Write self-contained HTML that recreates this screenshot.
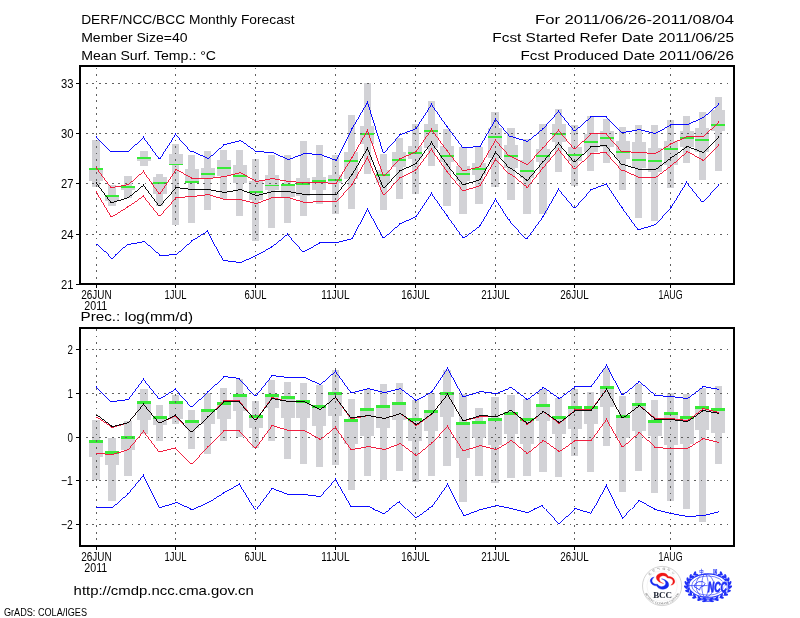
<!DOCTYPE html>
<html lang="en"><head><meta charset="utf-8"><title>DERF/NCC/BCC Monthly Forecast</title>
<style>html,body{margin:0;padding:0;background:#fff}body{width:800px;height:618px;overflow:hidden}svg{display:block;will-change:transform}text{font-family:"Liberation Sans", sans-serif;fill:#000}</style>
</head><body>
<svg width="800" height="618" viewBox="0 0 800 618">
<rect x="0" y="0" width="800" height="618" fill="#fff"/>
<g shape-rendering="crispEdges">
<rect x="92" y="140" width="8" height="47" fill="#d2d2d6"/>
<rect x="89" y="168" width="14" height="13" fill="#d2d2d6"/>
<rect x="108" y="185" width="8" height="21" fill="#d2d2d6"/>
<rect x="105" y="195" width="14" height="6" fill="#d2d2d6"/>
<rect x="124" y="176" width="8" height="22" fill="#d2d2d6"/>
<rect x="121" y="186" width="14" height="4" fill="#d2d2d6"/>
<rect x="140" y="151" width="8" height="15" fill="#d2d2d6"/>
<rect x="137" y="157" width="14" height="4" fill="#d2d2d6"/>
<rect x="156" y="174" width="7" height="32" fill="#d2d2d6"/>
<rect x="153" y="177" width="14" height="17" fill="#d2d2d6"/>
<rect x="172" y="144" width="7" height="81" fill="#d2d2d6"/>
<rect x="169" y="154" width="14" height="11" fill="#d2d2d6"/>
<rect x="188" y="155" width="7" height="68" fill="#d2d2d6"/>
<rect x="185" y="169" width="14" height="14" fill="#d2d2d6"/>
<rect x="204" y="151" width="7" height="59" fill="#d2d2d6"/>
<rect x="201" y="168" width="14" height="10" fill="#d2d2d6"/>
<rect x="220" y="150" width="7" height="49" fill="#d2d2d6"/>
<rect x="217" y="160" width="14" height="16" fill="#d2d2d6"/>
<rect x="236" y="150" width="7" height="66" fill="#d2d2d6"/>
<rect x="233" y="165" width="14" height="18" fill="#d2d2d6"/>
<rect x="252" y="159" width="7" height="82" fill="#d2d2d6"/>
<rect x="249" y="181" width="14" height="19" fill="#d2d2d6"/>
<rect x="268" y="155" width="7" height="73" fill="#d2d2d6"/>
<rect x="265" y="175" width="14" height="15" fill="#d2d2d6"/>
<rect x="284" y="155" width="7" height="68" fill="#d2d2d6"/>
<rect x="281" y="184" width="14" height="13" fill="#d2d2d6"/>
<rect x="300" y="141" width="7" height="75" fill="#d2d2d6"/>
<rect x="296" y="178" width="14" height="18" fill="#d2d2d6"/>
<rect x="316" y="145" width="7" height="59" fill="#d2d2d6"/>
<rect x="312" y="177" width="14" height="13" fill="#d2d2d6"/>
<rect x="332" y="155" width="7" height="59" fill="#d2d2d6"/>
<rect x="328" y="175" width="14" height="8" fill="#d2d2d6"/>
<rect x="348" y="115" width="7" height="94" fill="#d2d2d6"/>
<rect x="344" y="152" width="14" height="27" fill="#d2d2d6"/>
<rect x="364" y="83" width="7" height="91" fill="#d2d2d6"/>
<rect x="360" y="126" width="14" height="18" fill="#d2d2d6"/>
<rect x="380" y="154" width="7" height="56" fill="#d2d2d6"/>
<rect x="376" y="170" width="14" height="13" fill="#d2d2d6"/>
<rect x="396" y="138" width="7" height="61" fill="#d2d2d6"/>
<rect x="392" y="152" width="14" height="15" fill="#d2d2d6"/>
<rect x="412" y="124" width="7" height="70" fill="#d2d2d6"/>
<rect x="408" y="146" width="14" height="13" fill="#d2d2d6"/>
<rect x="428" y="101" width="7" height="65" fill="#d2d2d6"/>
<rect x="424" y="124" width="14" height="24" fill="#d2d2d6"/>
<rect x="443" y="129" width="8" height="77" fill="#d2d2d6"/>
<rect x="440" y="146" width="14" height="16" fill="#d2d2d6"/>
<rect x="459" y="147" width="8" height="67" fill="#d2d2d6"/>
<rect x="456" y="166" width="14" height="15" fill="#d2d2d6"/>
<rect x="475" y="147" width="8" height="57" fill="#d2d2d6"/>
<rect x="472" y="163" width="14" height="12" fill="#d2d2d6"/>
<rect x="491" y="112" width="8" height="75" fill="#d2d2d6"/>
<rect x="488" y="128" width="14" height="30" fill="#d2d2d6"/>
<rect x="507" y="128" width="8" height="72" fill="#d2d2d6"/>
<rect x="504" y="145" width="14" height="23" fill="#d2d2d6"/>
<rect x="523" y="139" width="8" height="75" fill="#d2d2d6"/>
<rect x="520" y="160" width="14" height="18" fill="#d2d2d6"/>
<rect x="539" y="124" width="8" height="90" fill="#d2d2d6"/>
<rect x="536" y="149" width="14" height="13" fill="#d2d2d6"/>
<rect x="555" y="109" width="7" height="63" fill="#d2d2d6"/>
<rect x="552" y="124" width="14" height="18" fill="#d2d2d6"/>
<rect x="571" y="125" width="7" height="61" fill="#d2d2d6"/>
<rect x="568" y="147" width="14" height="14" fill="#d2d2d6"/>
<rect x="587" y="116" width="7" height="55" fill="#d2d2d6"/>
<rect x="584" y="134" width="14" height="18" fill="#d2d2d6"/>
<rect x="603" y="119" width="7" height="44" fill="#d2d2d6"/>
<rect x="600" y="131" width="14" height="16" fill="#d2d2d6"/>
<rect x="619" y="127" width="7" height="63" fill="#d2d2d6"/>
<rect x="616" y="141" width="14" height="18" fill="#d2d2d6"/>
<rect x="635" y="125" width="7" height="93" fill="#d2d2d6"/>
<rect x="632" y="142" width="14" height="26" fill="#d2d2d6"/>
<rect x="651" y="125" width="7" height="96" fill="#d2d2d6"/>
<rect x="648" y="148" width="14" height="24" fill="#d2d2d6"/>
<rect x="667" y="120" width="7" height="68" fill="#d2d2d6"/>
<rect x="664" y="141" width="14" height="24" fill="#d2d2d6"/>
<rect x="683" y="116" width="7" height="47" fill="#d2d2d6"/>
<rect x="680" y="131" width="14" height="16" fill="#d2d2d6"/>
<rect x="699" y="112" width="7" height="68" fill="#d2d2d6"/>
<rect x="695" y="128" width="14" height="24" fill="#d2d2d6"/>
<rect x="715" y="97" width="7" height="74" fill="#d2d2d6"/>
<rect x="711" y="110" width="14" height="21" fill="#d2d2d6"/>
<rect x="89" y="168" width="14" height="2" fill="#38ea38"/>
<rect x="105" y="195" width="14" height="2" fill="#38ea38"/>
<rect x="121" y="186" width="14" height="2" fill="#38ea38"/>
<rect x="137" y="157" width="14" height="2" fill="#38ea38"/>
<rect x="153" y="182" width="14" height="2" fill="#38ea38"/>
<rect x="169" y="164" width="14" height="1" fill="#38ea38"/>
<rect x="185" y="181" width="14" height="2" fill="#38ea38"/>
<rect x="201" y="173" width="14" height="2" fill="#38ea38"/>
<rect x="217" y="167" width="14" height="2" fill="#38ea38"/>
<rect x="233" y="175" width="14" height="2" fill="#38ea38"/>
<rect x="249" y="191" width="14" height="2" fill="#38ea38"/>
<rect x="265" y="185" width="14" height="1" fill="#38ea38"/>
<rect x="281" y="184" width="14" height="2" fill="#38ea38"/>
<rect x="296" y="183" width="14" height="2" fill="#38ea38"/>
<rect x="312" y="180" width="14" height="2" fill="#38ea38"/>
<rect x="328" y="179" width="14" height="2" fill="#38ea38"/>
<rect x="344" y="160" width="14" height="2" fill="#38ea38"/>
<rect x="360" y="133" width="14" height="2" fill="#38ea38"/>
<rect x="376" y="174" width="14" height="2" fill="#38ea38"/>
<rect x="392" y="159" width="14" height="2" fill="#38ea38"/>
<rect x="408" y="152" width="14" height="2" fill="#38ea38"/>
<rect x="424" y="130" width="14" height="2" fill="#38ea38"/>
<rect x="440" y="155" width="14" height="2" fill="#38ea38"/>
<rect x="456" y="173" width="14" height="2" fill="#38ea38"/>
<rect x="472" y="168" width="14" height="2" fill="#38ea38"/>
<rect x="488" y="136" width="14" height="2" fill="#38ea38"/>
<rect x="504" y="155" width="14" height="2" fill="#38ea38"/>
<rect x="520" y="170" width="14" height="2" fill="#38ea38"/>
<rect x="536" y="155" width="14" height="2" fill="#38ea38"/>
<rect x="552" y="133" width="14" height="2" fill="#38ea38"/>
<rect x="568" y="154" width="14" height="2" fill="#38ea38"/>
<rect x="584" y="141" width="14" height="2" fill="#38ea38"/>
<rect x="600" y="137" width="14" height="2" fill="#38ea38"/>
<rect x="616" y="151" width="14" height="2" fill="#38ea38"/>
<rect x="632" y="159" width="14" height="2" fill="#38ea38"/>
<rect x="648" y="160" width="14" height="2" fill="#38ea38"/>
<rect x="664" y="148" width="14" height="2" fill="#38ea38"/>
<rect x="680" y="137" width="14" height="2" fill="#38ea38"/>
<rect x="695" y="139" width="14" height="2" fill="#38ea38"/>
<rect x="711" y="124" width="14" height="2" fill="#38ea38"/>
</g>
<g stroke="#606060" stroke-width="1" stroke-dasharray="1.75 4.79" shape-rendering="crispEdges" fill="none">
<line x1="80" y1="83.5" x2="734" y2="83.5" stroke-dashoffset="0.79"/>
<line x1="80" y1="133.5" x2="734" y2="133.5" stroke-dashoffset="0.79"/>
<line x1="80" y1="183.5" x2="734" y2="183.5" stroke-dashoffset="0.79"/>
<line x1="80" y1="234.5" x2="734" y2="234.5" stroke-dashoffset="0.79"/>
<line x1="96.5" y1="66" x2="96.5" y2="284" stroke-dashoffset="4.94"/>
<line x1="175.5" y1="66" x2="175.5" y2="284" stroke-dashoffset="4.94"/>
<line x1="255.5" y1="66" x2="255.5" y2="284" stroke-dashoffset="4.94"/>
<line x1="335.5" y1="66" x2="335.5" y2="284" stroke-dashoffset="4.94"/>
<line x1="415.5" y1="66" x2="415.5" y2="284" stroke-dashoffset="4.94"/>
<line x1="495.5" y1="66" x2="495.5" y2="284" stroke-dashoffset="4.94"/>
<line x1="574.5" y1="66" x2="574.5" y2="284" stroke-dashoffset="4.94"/>
<line x1="670.5" y1="66" x2="670.5" y2="284" stroke-dashoffset="4.94"/>
</g>
<polyline points="96.5,136.5 111.5,151.5 127.5,151.5 143.5,136.5 159.5,158.5 175.5,133.5 191.5,151.5 207.5,158.5 223.5,144.5 239.5,140.5 255.5,151.5 271.5,152.5 287.5,159.5 303.5,153.5 319.5,154.5 335.5,160.5 351.5,128.5 367.5,101.5 383.5,152.5 399.5,134.5 415.5,128.5 431.5,103.5 447.5,126.5 463.5,147.5 479.5,146.5 495.5,118.5 510.5,136.5 526.5,141.5 542.5,128.5 558.5,110.5 574.5,130.5 590.5,116.5 606.5,116.5 622.5,132.5 638.5,129.5 654.5,133.5 670.5,124.5 686.5,124.5 702.5,117.5 718.5,103.5" fill="none" stroke="#0000ff" stroke-width="0.95" shape-rendering="crispEdges"/>
<path d="M96 136h1v1h-1zM111 151h1v1h-1zM127 151h1v1h-1zM143 136h1v1h-1zM159 158h1v1h-1zM175 133h1v1h-1zM191 151h1v1h-1zM207 158h1v1h-1zM223 144h1v1h-1zM239 140h1v1h-1zM255 151h1v1h-1zM271 152h1v1h-1zM287 159h1v1h-1zM303 153h1v1h-1zM319 154h1v1h-1zM335 160h1v1h-1zM351 128h1v1h-1zM367 101h1v1h-1zM383 152h1v1h-1zM399 134h1v1h-1zM415 128h1v1h-1zM431 103h1v1h-1zM447 126h1v1h-1zM463 147h1v1h-1zM479 146h1v1h-1zM495 118h1v1h-1zM510 136h1v1h-1zM526 141h1v1h-1zM542 128h1v1h-1zM558 110h1v1h-1zM574 130h1v1h-1zM590 116h1v1h-1zM606 116h1v1h-1zM622 132h1v1h-1zM638 129h1v1h-1zM654 133h1v1h-1zM670 124h1v1h-1zM686 124h1v1h-1zM702 117h1v1h-1zM718 103h1v1h-1z" fill="#0000ff" shape-rendering="crispEdges"/>
<polyline points="96.5,244.5 111.5,258.5 127.5,244.5 143.5,241.5 159.5,255.5 175.5,254.5 191.5,240.5 207.5,230.5 223.5,260.5 239.5,262.5 255.5,255.5 271.5,246.5 287.5,233.5 303.5,251.5 319.5,242.5 335.5,242.5 351.5,238.5 367.5,208.5 383.5,237.5 399.5,223.5 415.5,216.5 431.5,192.5 447.5,215.5 463.5,237.5 479.5,225.5 495.5,198.5 510.5,221.5 526.5,238.5 542.5,216.5 558.5,188.5 574.5,207.5 590.5,189.5 606.5,183.5 622.5,207.5 638.5,229.5 654.5,224.5 670.5,207.5 686.5,181.5 702.5,201.5 718.5,184.5" fill="none" stroke="#0000ff" stroke-width="0.95" shape-rendering="crispEdges"/>
<path d="M96 244h1v1h-1zM111 258h1v1h-1zM127 244h1v1h-1zM143 241h1v1h-1zM159 255h1v1h-1zM175 254h1v1h-1zM191 240h1v1h-1zM207 230h1v1h-1zM223 260h1v1h-1zM239 262h1v1h-1zM255 255h1v1h-1zM271 246h1v1h-1zM287 233h1v1h-1zM303 251h1v1h-1zM319 242h1v1h-1zM335 242h1v1h-1zM351 238h1v1h-1zM367 208h1v1h-1zM383 237h1v1h-1zM399 223h1v1h-1zM415 216h1v1h-1zM431 192h1v1h-1zM447 215h1v1h-1zM463 237h1v1h-1zM479 225h1v1h-1zM495 198h1v1h-1zM510 221h1v1h-1zM526 238h1v1h-1zM542 216h1v1h-1zM558 188h1v1h-1zM574 207h1v1h-1zM590 189h1v1h-1zM606 183h1v1h-1zM622 207h1v1h-1zM638 229h1v1h-1zM654 224h1v1h-1zM670 207h1v1h-1zM686 181h1v1h-1zM702 201h1v1h-1zM718 184h1v1h-1z" fill="#0000ff" shape-rendering="crispEdges"/>
<polyline points="96.5,167.5 111.5,187.5 127.5,184.5 143.5,170.5 159.5,193.5 175.5,169.5 191.5,178.5 207.5,178.5 223.5,176.5 239.5,172.5 255.5,181.5 271.5,178.5 287.5,181.5 303.5,182.5 319.5,182.5 335.5,183.5 351.5,157.5 367.5,129.5 383.5,175.5 399.5,158.5 415.5,151.5 431.5,128.5 447.5,150.5 463.5,170.5 479.5,166.5 495.5,139.5 510.5,156.5 526.5,164.5 542.5,147.5 558.5,129.5 574.5,148.5 590.5,133.5 606.5,133.5 622.5,151.5 638.5,152.5 654.5,153.5 670.5,143.5 686.5,136.5 702.5,136.5 718.5,121.5" fill="none" stroke="#f01437" stroke-width="0.95" shape-rendering="crispEdges"/>
<path d="M96 167h1v1h-1zM111 187h1v1h-1zM127 184h1v1h-1zM143 170h1v1h-1zM159 193h1v1h-1zM175 169h1v1h-1zM191 178h1v1h-1zM207 178h1v1h-1zM223 176h1v1h-1zM239 172h1v1h-1zM255 181h1v1h-1zM271 178h1v1h-1zM287 181h1v1h-1zM303 182h1v1h-1zM319 182h1v1h-1zM335 183h1v1h-1zM351 157h1v1h-1zM367 129h1v1h-1zM383 175h1v1h-1zM399 158h1v1h-1zM415 151h1v1h-1zM431 128h1v1h-1zM447 150h1v1h-1zM463 170h1v1h-1zM479 166h1v1h-1zM495 139h1v1h-1zM510 156h1v1h-1zM526 164h1v1h-1zM542 147h1v1h-1zM558 129h1v1h-1zM574 148h1v1h-1zM590 133h1v1h-1zM606 133h1v1h-1zM622 151h1v1h-1zM638 152h1v1h-1zM654 153h1v1h-1zM670 143h1v1h-1zM686 136h1v1h-1zM702 136h1v1h-1zM718 121h1v1h-1z" fill="#f01437" shape-rendering="crispEdges"/>
<polyline points="96.5,191.5 111.5,216.5 127.5,206.5 143.5,195.5 159.5,215.5 175.5,197.5 191.5,196.5 207.5,194.5 223.5,199.5 239.5,199.5 255.5,203.5 271.5,197.5 287.5,197.5 303.5,202.5 319.5,201.5 335.5,201.5 351.5,184.5 367.5,156.5 383.5,194.5 399.5,177.5 415.5,169.5 431.5,148.5 447.5,171.5 463.5,190.5 479.5,185.5 495.5,158.5 510.5,174.5 526.5,187.5 542.5,167.5 558.5,148.5 574.5,168.5 590.5,153.5 606.5,152.5 622.5,170.5 638.5,177.5 654.5,177.5 670.5,165.5 686.5,151.5 702.5,160.5 718.5,144.5" fill="none" stroke="#f01437" stroke-width="0.95" shape-rendering="crispEdges"/>
<path d="M96 191h1v1h-1zM111 216h1v1h-1zM127 206h1v1h-1zM143 195h1v1h-1zM159 215h1v1h-1zM175 197h1v1h-1zM191 196h1v1h-1zM207 194h1v1h-1zM223 199h1v1h-1zM239 199h1v1h-1zM255 203h1v1h-1zM271 197h1v1h-1zM287 197h1v1h-1zM303 202h1v1h-1zM319 201h1v1h-1zM335 201h1v1h-1zM351 184h1v1h-1zM367 156h1v1h-1zM383 194h1v1h-1zM399 177h1v1h-1zM415 169h1v1h-1zM431 148h1v1h-1zM447 171h1v1h-1zM463 190h1v1h-1zM479 185h1v1h-1zM495 158h1v1h-1zM510 174h1v1h-1zM526 187h1v1h-1zM542 167h1v1h-1zM558 148h1v1h-1zM574 168h1v1h-1zM590 153h1v1h-1zM606 152h1v1h-1zM622 170h1v1h-1zM638 177h1v1h-1zM654 177h1v1h-1zM670 165h1v1h-1zM686 151h1v1h-1zM702 160h1v1h-1zM718 144h1v1h-1z" fill="#f01437" shape-rendering="crispEdges"/>
<polyline points="96.5,182.5 111.5,202.5 127.5,197.5 143.5,184.5 159.5,205.5 175.5,187.5 191.5,189.5 207.5,189.5 223.5,192.5 239.5,189.5 255.5,195.5 271.5,191.5 287.5,191.5 303.5,194.5 319.5,194.5 335.5,194.5 351.5,174.5 367.5,147.5 383.5,187.5 399.5,170.5 415.5,163.5 431.5,141.5 447.5,164.5 463.5,184.5 479.5,179.5 495.5,151.5 510.5,168.5 526.5,180.5 542.5,161.5 558.5,142.5 574.5,161.5 590.5,146.5 606.5,145.5 622.5,164.5 638.5,169.5 654.5,169.5 670.5,157.5 686.5,146.5 702.5,152.5 718.5,136.5" fill="none" stroke="#000" stroke-width="0.95" shape-rendering="crispEdges"/>
<path d="M96 182h1v1h-1zM111 202h1v1h-1zM127 197h1v1h-1zM143 184h1v1h-1zM159 205h1v1h-1zM175 187h1v1h-1zM191 189h1v1h-1zM207 189h1v1h-1zM223 192h1v1h-1zM239 189h1v1h-1zM255 195h1v1h-1zM271 191h1v1h-1zM287 191h1v1h-1zM303 194h1v1h-1zM319 194h1v1h-1zM335 194h1v1h-1zM351 174h1v1h-1zM367 147h1v1h-1zM383 187h1v1h-1zM399 170h1v1h-1zM415 163h1v1h-1zM431 141h1v1h-1zM447 164h1v1h-1zM463 184h1v1h-1zM479 179h1v1h-1zM495 151h1v1h-1zM510 168h1v1h-1zM526 180h1v1h-1zM542 161h1v1h-1zM558 142h1v1h-1zM574 161h1v1h-1zM590 146h1v1h-1zM606 145h1v1h-1zM622 164h1v1h-1zM638 169h1v1h-1zM654 169h1v1h-1zM670 157h1v1h-1zM686 146h1v1h-1zM702 152h1v1h-1zM718 136h1v1h-1z" fill="#000" shape-rendering="crispEdges"/>
<g shape-rendering="crispEdges">
<rect x="80" y="66" width="654" height="218" fill="none" stroke="#000" stroke-width="2"/>
<rect x="76" y="83" width="4" height="1" fill="#000"/>
<rect x="76" y="133" width="4" height="1" fill="#000"/>
<rect x="76" y="183" width="4" height="1" fill="#000"/>
<rect x="76" y="234" width="4" height="1" fill="#000"/>
<rect x="76" y="284" width="4" height="1" fill="#000"/>
<rect x="96" y="285" width="1" height="3" fill="#000"/>
<rect x="175" y="285" width="1" height="3" fill="#000"/>
<rect x="255" y="285" width="1" height="3" fill="#000"/>
<rect x="335" y="285" width="1" height="3" fill="#000"/>
<rect x="415" y="285" width="1" height="3" fill="#000"/>
<rect x="495" y="285" width="1" height="3" fill="#000"/>
<rect x="574" y="285" width="1" height="3" fill="#000"/>
<rect x="670" y="285" width="1" height="3" fill="#000"/>
</g>
<g shape-rendering="crispEdges">
<rect x="92" y="420" width="8" height="60" fill="#d2d2d6"/>
<rect x="89" y="440" width="14" height="17" fill="#d2d2d6"/>
<rect x="108" y="438" width="8" height="63" fill="#d2d2d6"/>
<rect x="105" y="451" width="14" height="14" fill="#d2d2d6"/>
<rect x="124" y="421" width="8" height="55" fill="#d2d2d6"/>
<rect x="121" y="436" width="14" height="14" fill="#d2d2d6"/>
<rect x="140" y="389" width="8" height="45" fill="#d2d2d6"/>
<rect x="137" y="401" width="14" height="19" fill="#d2d2d6"/>
<rect x="156" y="405" width="7" height="36" fill="#d2d2d6"/>
<rect x="153" y="416" width="14" height="9" fill="#d2d2d6"/>
<rect x="172" y="395" width="7" height="29" fill="#d2d2d6"/>
<rect x="169" y="401" width="14" height="18" fill="#d2d2d6"/>
<rect x="188" y="410" width="7" height="39" fill="#d2d2d6"/>
<rect x="185" y="420" width="14" height="8" fill="#d2d2d6"/>
<rect x="204" y="393" width="7" height="61" fill="#d2d2d6"/>
<rect x="201" y="409" width="14" height="15" fill="#d2d2d6"/>
<rect x="220" y="388" width="7" height="53" fill="#d2d2d6"/>
<rect x="217" y="402" width="14" height="17" fill="#d2d2d6"/>
<rect x="236" y="379" width="7" height="58" fill="#d2d2d6"/>
<rect x="233" y="394" width="14" height="17" fill="#d2d2d6"/>
<rect x="252" y="401" width="7" height="47" fill="#d2d2d6"/>
<rect x="249" y="415" width="14" height="13" fill="#d2d2d6"/>
<rect x="268" y="380" width="7" height="61" fill="#d2d2d6"/>
<rect x="265" y="394" width="14" height="14" fill="#d2d2d6"/>
<rect x="284" y="382" width="7" height="77" fill="#d2d2d6"/>
<rect x="281" y="396" width="14" height="22" fill="#d2d2d6"/>
<rect x="300" y="383" width="7" height="81" fill="#d2d2d6"/>
<rect x="296" y="400" width="14" height="18" fill="#d2d2d6"/>
<rect x="316" y="385" width="7" height="82" fill="#d2d2d6"/>
<rect x="312" y="405" width="14" height="21" fill="#d2d2d6"/>
<rect x="332" y="370" width="7" height="95" fill="#d2d2d6"/>
<rect x="328" y="392" width="14" height="24" fill="#d2d2d6"/>
<rect x="348" y="399" width="7" height="91" fill="#d2d2d6"/>
<rect x="344" y="419" width="14" height="25" fill="#d2d2d6"/>
<rect x="364" y="389" width="7" height="87" fill="#d2d2d6"/>
<rect x="360" y="408" width="14" height="28" fill="#d2d2d6"/>
<rect x="380" y="384" width="7" height="96" fill="#d2d2d6"/>
<rect x="376" y="405" width="14" height="23" fill="#d2d2d6"/>
<rect x="396" y="383" width="7" height="88" fill="#d2d2d6"/>
<rect x="392" y="402" width="14" height="18" fill="#d2d2d6"/>
<rect x="412" y="400" width="7" height="82" fill="#d2d2d6"/>
<rect x="408" y="418" width="14" height="23" fill="#d2d2d6"/>
<rect x="428" y="393" width="7" height="83" fill="#d2d2d6"/>
<rect x="424" y="410" width="14" height="21" fill="#d2d2d6"/>
<rect x="443" y="370" width="8" height="96" fill="#d2d2d6"/>
<rect x="440" y="392" width="14" height="25" fill="#d2d2d6"/>
<rect x="459" y="394" width="8" height="108" fill="#d2d2d6"/>
<rect x="456" y="422" width="14" height="36" fill="#d2d2d6"/>
<rect x="475" y="408" width="8" height="68" fill="#d2d2d6"/>
<rect x="472" y="421" width="14" height="17" fill="#d2d2d6"/>
<rect x="491" y="397" width="8" height="86" fill="#d2d2d6"/>
<rect x="488" y="418" width="14" height="27" fill="#d2d2d6"/>
<rect x="507" y="395" width="8" height="83" fill="#d2d2d6"/>
<rect x="504" y="412" width="14" height="22" fill="#d2d2d6"/>
<rect x="523" y="399" width="8" height="77" fill="#d2d2d6"/>
<rect x="520" y="418" width="14" height="26" fill="#d2d2d6"/>
<rect x="539" y="389" width="8" height="83" fill="#d2d2d6"/>
<rect x="536" y="404" width="14" height="17" fill="#d2d2d6"/>
<rect x="555" y="398" width="7" height="79" fill="#d2d2d6"/>
<rect x="552" y="416" width="14" height="18" fill="#d2d2d6"/>
<rect x="571" y="389" width="7" height="67" fill="#d2d2d6"/>
<rect x="568" y="406" width="14" height="23" fill="#d2d2d6"/>
<rect x="587" y="392" width="7" height="80" fill="#d2d2d6"/>
<rect x="584" y="406" width="14" height="18" fill="#d2d2d6"/>
<rect x="603" y="368" width="7" height="78" fill="#d2d2d6"/>
<rect x="600" y="386" width="14" height="21" fill="#d2d2d6"/>
<rect x="619" y="396" width="7" height="96" fill="#d2d2d6"/>
<rect x="616" y="415" width="14" height="23" fill="#d2d2d6"/>
<rect x="635" y="384" width="7" height="87" fill="#d2d2d6"/>
<rect x="632" y="403" width="14" height="28" fill="#d2d2d6"/>
<rect x="651" y="400" width="7" height="93" fill="#d2d2d6"/>
<rect x="648" y="420" width="14" height="16" fill="#d2d2d6"/>
<rect x="667" y="393" width="7" height="108" fill="#d2d2d6"/>
<rect x="664" y="412" width="14" height="33" fill="#d2d2d6"/>
<rect x="683" y="394" width="7" height="115" fill="#d2d2d6"/>
<rect x="680" y="416" width="14" height="28" fill="#d2d2d6"/>
<rect x="699" y="388" width="7" height="134" fill="#d2d2d6"/>
<rect x="695" y="406" width="14" height="24" fill="#d2d2d6"/>
<rect x="715" y="386" width="7" height="78" fill="#d2d2d6"/>
<rect x="711" y="408" width="14" height="25" fill="#d2d2d6"/>
<rect x="89" y="440" width="14" height="3" fill="#38ea38"/>
<rect x="105" y="451" width="14" height="3" fill="#38ea38"/>
<rect x="121" y="436" width="14" height="3" fill="#38ea38"/>
<rect x="137" y="401" width="14" height="3" fill="#38ea38"/>
<rect x="153" y="416" width="14" height="3" fill="#38ea38"/>
<rect x="169" y="401" width="14" height="3" fill="#38ea38"/>
<rect x="185" y="420" width="14" height="3" fill="#38ea38"/>
<rect x="201" y="409" width="14" height="3" fill="#38ea38"/>
<rect x="217" y="402" width="14" height="3" fill="#38ea38"/>
<rect x="233" y="394" width="14" height="3" fill="#38ea38"/>
<rect x="249" y="415" width="14" height="3" fill="#38ea38"/>
<rect x="265" y="394" width="14" height="3" fill="#38ea38"/>
<rect x="281" y="396" width="14" height="3" fill="#38ea38"/>
<rect x="296" y="400" width="14" height="3" fill="#38ea38"/>
<rect x="312" y="405" width="14" height="3" fill="#38ea38"/>
<rect x="328" y="392" width="14" height="3" fill="#38ea38"/>
<rect x="344" y="419" width="14" height="3" fill="#38ea38"/>
<rect x="360" y="408" width="14" height="3" fill="#38ea38"/>
<rect x="376" y="405" width="14" height="3" fill="#38ea38"/>
<rect x="392" y="402" width="14" height="3" fill="#38ea38"/>
<rect x="408" y="418" width="14" height="3" fill="#38ea38"/>
<rect x="424" y="410" width="14" height="3" fill="#38ea38"/>
<rect x="440" y="392" width="14" height="3" fill="#38ea38"/>
<rect x="456" y="422" width="14" height="3" fill="#38ea38"/>
<rect x="472" y="421" width="14" height="3" fill="#38ea38"/>
<rect x="488" y="418" width="14" height="3" fill="#38ea38"/>
<rect x="504" y="412" width="14" height="3" fill="#38ea38"/>
<rect x="520" y="418" width="14" height="3" fill="#38ea38"/>
<rect x="536" y="404" width="14" height="3" fill="#38ea38"/>
<rect x="552" y="416" width="14" height="3" fill="#38ea38"/>
<rect x="568" y="406" width="14" height="3" fill="#38ea38"/>
<rect x="584" y="406" width="14" height="3" fill="#38ea38"/>
<rect x="600" y="386" width="14" height="3" fill="#38ea38"/>
<rect x="616" y="415" width="14" height="3" fill="#38ea38"/>
<rect x="632" y="403" width="14" height="3" fill="#38ea38"/>
<rect x="648" y="420" width="14" height="3" fill="#38ea38"/>
<rect x="664" y="412" width="14" height="3" fill="#38ea38"/>
<rect x="680" y="416" width="14" height="3" fill="#38ea38"/>
<rect x="695" y="406" width="14" height="3" fill="#38ea38"/>
<rect x="711" y="408" width="14" height="3" fill="#38ea38"/>
</g>
<g stroke="#606060" stroke-width="1" stroke-dasharray="1.75 4.79" shape-rendering="crispEdges" fill="none">
<line x1="80" y1="349.5" x2="734" y2="349.5" stroke-dashoffset="0.79"/>
<line x1="80" y1="393.5" x2="734" y2="393.5" stroke-dashoffset="0.79"/>
<line x1="80" y1="437.5" x2="734" y2="437.5" stroke-dashoffset="0.79"/>
<line x1="80" y1="480.5" x2="734" y2="480.5" stroke-dashoffset="0.79"/>
<line x1="80" y1="524.5" x2="734" y2="524.5" stroke-dashoffset="0.79"/>
<line x1="96.5" y1="328.4" x2="96.5" y2="545.6" stroke-dashoffset="5.9"/>
<line x1="175.5" y1="328.4" x2="175.5" y2="545.6" stroke-dashoffset="5.9"/>
<line x1="255.5" y1="328.4" x2="255.5" y2="545.6" stroke-dashoffset="5.9"/>
<line x1="335.5" y1="328.4" x2="335.5" y2="545.6" stroke-dashoffset="5.9"/>
<line x1="415.5" y1="328.4" x2="415.5" y2="545.6" stroke-dashoffset="5.9"/>
<line x1="495.5" y1="328.4" x2="495.5" y2="545.6" stroke-dashoffset="5.9"/>
<line x1="574.5" y1="328.4" x2="574.5" y2="545.6" stroke-dashoffset="5.9"/>
<line x1="670.5" y1="328.4" x2="670.5" y2="545.6" stroke-dashoffset="5.9"/>
</g>
<polyline points="96.5,386.5 111.5,401.5 127.5,399.5 143.5,378.5 159.5,398.5 175.5,388.5 191.5,406.5 207.5,391.5 223.5,376.5 239.5,378.5 255.5,395.5 271.5,375.5 287.5,377.5 303.5,377.5 319.5,384.5 335.5,370.5 351.5,392.5 367.5,388.5 383.5,392.5 399.5,388.5 415.5,400.5 431.5,391.5 447.5,367.5 463.5,396.5 479.5,391.5 495.5,393.5 510.5,387.5 526.5,399.5 542.5,387.5 558.5,398.5 574.5,386.5 590.5,386.5 606.5,364.5 622.5,394.5 638.5,381.5 654.5,395.5 670.5,396.5 686.5,398.5 702.5,386.5 718.5,389.5" fill="none" stroke="#0000ff" stroke-width="0.95" shape-rendering="crispEdges"/>
<path d="M96 386h1v1h-1zM111 401h1v1h-1zM127 399h1v1h-1zM143 378h1v1h-1zM159 398h1v1h-1zM175 388h1v1h-1zM191 406h1v1h-1zM207 391h1v1h-1zM223 376h1v1h-1zM239 378h1v1h-1zM255 395h1v1h-1zM271 375h1v1h-1zM287 377h1v1h-1zM303 377h1v1h-1zM319 384h1v1h-1zM335 370h1v1h-1zM351 392h1v1h-1zM367 388h1v1h-1zM383 392h1v1h-1zM399 388h1v1h-1zM415 400h1v1h-1zM431 391h1v1h-1zM447 367h1v1h-1zM463 396h1v1h-1zM479 391h1v1h-1zM495 393h1v1h-1zM510 387h1v1h-1zM526 399h1v1h-1zM542 387h1v1h-1zM558 398h1v1h-1zM574 386h1v1h-1zM590 386h1v1h-1zM606 364h1v1h-1zM622 394h1v1h-1zM638 381h1v1h-1zM654 395h1v1h-1zM670 396h1v1h-1zM686 398h1v1h-1zM702 386h1v1h-1zM718 389h1v1h-1z" fill="#0000ff" shape-rendering="crispEdges"/>
<polyline points="96.5,507.5 111.5,507.5 127.5,493.5 143.5,474.5 159.5,507.5 175.5,502.5 191.5,509.5 207.5,502.5 223.5,492.5 239.5,483.5 255.5,509.5 271.5,488.5 287.5,494.5 303.5,494.5 319.5,496.5 335.5,478.5 351.5,506.5 367.5,506.5 383.5,513.5 399.5,501.5 415.5,517.5 431.5,506.5 447.5,483.5 463.5,515.5 479.5,509.5 495.5,505.5 510.5,508.5 526.5,512.5 542.5,505.5 558.5,523.5 574.5,508.5 590.5,513.5 606.5,484.5 622.5,518.5 638.5,500.5 654.5,509.5 670.5,513.5 686.5,516.5 702.5,515.5 718.5,511.5" fill="none" stroke="#0000ff" stroke-width="0.95" shape-rendering="crispEdges"/>
<path d="M96 507h1v1h-1zM111 507h1v1h-1zM127 493h1v1h-1zM143 474h1v1h-1zM159 507h1v1h-1zM175 502h1v1h-1zM191 509h1v1h-1zM207 502h1v1h-1zM223 492h1v1h-1zM239 483h1v1h-1zM255 509h1v1h-1zM271 488h1v1h-1zM287 494h1v1h-1zM303 494h1v1h-1zM319 496h1v1h-1zM335 478h1v1h-1zM351 506h1v1h-1zM367 506h1v1h-1zM383 513h1v1h-1zM399 501h1v1h-1zM415 517h1v1h-1zM431 506h1v1h-1zM447 483h1v1h-1zM463 515h1v1h-1zM479 509h1v1h-1zM495 505h1v1h-1zM510 508h1v1h-1zM526 512h1v1h-1zM542 505h1v1h-1zM558 523h1v1h-1zM574 508h1v1h-1zM590 513h1v1h-1zM606 484h1v1h-1zM622 518h1v1h-1zM638 500h1v1h-1zM654 509h1v1h-1zM670 513h1v1h-1zM686 516h1v1h-1zM702 515h1v1h-1zM718 511h1v1h-1z" fill="#0000ff" shape-rendering="crispEdges"/>
<polyline points="96.5,417.5 111.5,427.5 127.5,422.5 143.5,403.5 159.5,422.5 175.5,415.5 191.5,431.5 207.5,416.5 223.5,400.5 239.5,400.5 255.5,419.5 271.5,397.5 287.5,401.5 303.5,401.5 319.5,409.5 335.5,396.5 351.5,418.5 367.5,415.5 383.5,418.5 399.5,413.5 415.5,425.5 431.5,413.5 447.5,393.5 463.5,420.5 479.5,416.5 495.5,416.5 510.5,410.5 526.5,424.5 542.5,411.5 558.5,423.5 574.5,409.5 590.5,409.5 606.5,388.5 622.5,417.5 638.5,405.5 654.5,418.5 670.5,418.5 686.5,420.5 702.5,408.5 718.5,412.5" fill="none" stroke="#f01437" stroke-width="0.95" shape-rendering="crispEdges"/>
<path d="M96 417h1v1h-1zM111 427h1v1h-1zM127 422h1v1h-1zM143 403h1v1h-1zM159 422h1v1h-1zM175 415h1v1h-1zM191 431h1v1h-1zM207 416h1v1h-1zM223 400h1v1h-1zM239 400h1v1h-1zM255 419h1v1h-1zM271 397h1v1h-1zM287 401h1v1h-1zM303 401h1v1h-1zM319 409h1v1h-1zM335 396h1v1h-1zM351 418h1v1h-1zM367 415h1v1h-1zM383 418h1v1h-1zM399 413h1v1h-1zM415 425h1v1h-1zM431 413h1v1h-1zM447 393h1v1h-1zM463 420h1v1h-1zM479 416h1v1h-1zM495 416h1v1h-1zM510 410h1v1h-1zM526 424h1v1h-1zM542 411h1v1h-1zM558 423h1v1h-1zM574 409h1v1h-1zM590 409h1v1h-1zM606 388h1v1h-1zM622 417h1v1h-1zM638 405h1v1h-1zM654 418h1v1h-1zM670 418h1v1h-1zM686 420h1v1h-1zM702 408h1v1h-1zM718 412h1v1h-1z" fill="#f01437" shape-rendering="crispEdges"/>
<polyline points="96.5,453.5 111.5,454.5 127.5,449.5 143.5,430.5 159.5,451.5 175.5,447.5 191.5,463.5 207.5,446.5 223.5,430.5 239.5,430.5 255.5,447.5 271.5,425.5 287.5,430.5 303.5,430.5 319.5,439.5 335.5,426.5 351.5,449.5 367.5,446.5 383.5,449.5 399.5,443.5 415.5,455.5 431.5,442.5 447.5,425.5 463.5,450.5 479.5,445.5 495.5,449.5 510.5,440.5 526.5,453.5 542.5,440.5 558.5,451.5 574.5,440.5 590.5,440.5 606.5,418.5 622.5,446.5 638.5,432.5 654.5,447.5 670.5,448.5 686.5,448.5 702.5,438.5 718.5,442.5" fill="none" stroke="#f01437" stroke-width="0.95" shape-rendering="crispEdges"/>
<path d="M96 453h1v1h-1zM111 454h1v1h-1zM127 449h1v1h-1zM143 430h1v1h-1zM159 451h1v1h-1zM175 447h1v1h-1zM191 463h1v1h-1zM207 446h1v1h-1zM223 430h1v1h-1zM239 430h1v1h-1zM255 447h1v1h-1zM271 425h1v1h-1zM287 430h1v1h-1zM303 430h1v1h-1zM319 439h1v1h-1zM335 426h1v1h-1zM351 449h1v1h-1zM367 446h1v1h-1zM383 449h1v1h-1zM399 443h1v1h-1zM415 455h1v1h-1zM431 442h1v1h-1zM447 425h1v1h-1zM463 450h1v1h-1zM479 445h1v1h-1zM495 449h1v1h-1zM510 440h1v1h-1zM526 453h1v1h-1zM542 440h1v1h-1zM558 451h1v1h-1zM574 440h1v1h-1zM590 440h1v1h-1zM606 418h1v1h-1zM622 446h1v1h-1zM638 432h1v1h-1zM654 447h1v1h-1zM670 448h1v1h-1zM686 448h1v1h-1zM702 438h1v1h-1zM718 442h1v1h-1z" fill="#f01437" shape-rendering="crispEdges"/>
<polyline points="96.5,415.5 111.5,426.5 127.5,422.5 143.5,403.5 159.5,422.5 175.5,414.5 191.5,431.5 207.5,416.5 223.5,401.5 239.5,401.5 255.5,419.5 271.5,398.5 287.5,401.5 303.5,401.5 319.5,409.5 335.5,396.5 351.5,417.5 367.5,415.5 383.5,418.5 399.5,413.5 415.5,424.5 431.5,413.5 447.5,393.5 463.5,420.5 479.5,415.5 495.5,416.5 510.5,410.5 526.5,423.5 542.5,411.5 558.5,422.5 574.5,410.5 590.5,410.5 606.5,388.5 622.5,417.5 638.5,405.5 654.5,419.5 670.5,419.5 686.5,421.5 702.5,410.5 718.5,413.5" fill="none" stroke="#000" stroke-width="0.95" shape-rendering="crispEdges"/>
<path d="M96 415h1v1h-1zM111 426h1v1h-1zM127 422h1v1h-1zM143 403h1v1h-1zM159 422h1v1h-1zM175 414h1v1h-1zM191 431h1v1h-1zM207 416h1v1h-1zM223 401h1v1h-1zM239 401h1v1h-1zM255 419h1v1h-1zM271 398h1v1h-1zM287 401h1v1h-1zM303 401h1v1h-1zM319 409h1v1h-1zM335 396h1v1h-1zM351 417h1v1h-1zM367 415h1v1h-1zM383 418h1v1h-1zM399 413h1v1h-1zM415 424h1v1h-1zM431 413h1v1h-1zM447 393h1v1h-1zM463 420h1v1h-1zM479 415h1v1h-1zM495 416h1v1h-1zM510 410h1v1h-1zM526 423h1v1h-1zM542 411h1v1h-1zM558 422h1v1h-1zM574 410h1v1h-1zM590 410h1v1h-1zM606 388h1v1h-1zM622 417h1v1h-1zM638 405h1v1h-1zM654 419h1v1h-1zM670 419h1v1h-1zM686 421h1v1h-1zM702 410h1v1h-1zM718 413h1v1h-1z" fill="#000" shape-rendering="crispEdges"/>
<g shape-rendering="crispEdges">
<rect x="80" y="328.4" width="654" height="217.2" fill="none" stroke="#000" stroke-width="2"/>
<rect x="76" y="349" width="4" height="1" fill="#000"/>
<rect x="76" y="393" width="4" height="1" fill="#000"/>
<rect x="76" y="437" width="4" height="1" fill="#000"/>
<rect x="76" y="480" width="4" height="1" fill="#000"/>
<rect x="76" y="524" width="4" height="1" fill="#000"/>
<rect x="96" y="547" width="1" height="3" fill="#000"/>
<rect x="175" y="547" width="1" height="3" fill="#000"/>
<rect x="255" y="547" width="1" height="3" fill="#000"/>
<rect x="335" y="547" width="1" height="3" fill="#000"/>
<rect x="415" y="547" width="1" height="3" fill="#000"/>
<rect x="495" y="547" width="1" height="3" fill="#000"/>
<rect x="574" y="547" width="1" height="3" fill="#000"/>
<rect x="670" y="547" width="1" height="3" fill="#000"/>
</g>
<text x="81.2" y="23.7" font-size="13.5" text-anchor="start" textLength="213.3" lengthAdjust="spacingAndGlyphs">DERF/NCC/BCC Monthly Forecast</text>
<text x="81.2" y="41.9" font-size="12.2" text-anchor="start" textLength="106.4" lengthAdjust="spacingAndGlyphs">Member Size=40</text>
<text x="81.2" y="59.7" font-size="12.2" text-anchor="start" textLength="134.9" lengthAdjust="spacingAndGlyphs">Mean Surf. Temp.: &#176;C</text>
<text x="734" y="23.9" font-size="13.2" text-anchor="end" textLength="199" lengthAdjust="spacingAndGlyphs">For 2011/06/26-2011/08/04</text>
<text x="734" y="41.7" font-size="12.2" text-anchor="end" textLength="241.7" lengthAdjust="spacingAndGlyphs">Fcst Started Refer Date 2011/06/25</text>
<text x="734" y="59.7" font-size="12.2" text-anchor="end" textLength="213.4" lengthAdjust="spacingAndGlyphs">Fcst Produced Date 2011/06/26</text>
<text x="80.6" y="321.4" font-size="12.2" text-anchor="start" textLength="112.4" lengthAdjust="spacingAndGlyphs">Prec.: log(mm/d)</text>
<text x="73.5" y="88" font-size="12.5" text-anchor="end" textLength="12.5" lengthAdjust="spacingAndGlyphs">33</text>
<text x="73.5" y="138" font-size="12.5" text-anchor="end" textLength="12.5" lengthAdjust="spacingAndGlyphs">30</text>
<text x="73.5" y="188" font-size="12.5" text-anchor="end" textLength="12.5" lengthAdjust="spacingAndGlyphs">27</text>
<text x="73.5" y="239" font-size="12.5" text-anchor="end" textLength="12.5" lengthAdjust="spacingAndGlyphs">24</text>
<text x="73.5" y="289" font-size="12.5" text-anchor="end" textLength="12.5" lengthAdjust="spacingAndGlyphs">21</text>
<text x="72.8" y="354" font-size="12.5" text-anchor="end" textLength="5.4" lengthAdjust="spacingAndGlyphs">2</text>
<text x="72.8" y="398" font-size="12.5" text-anchor="end" textLength="5.4" lengthAdjust="spacingAndGlyphs">1</text>
<text x="72.8" y="442" font-size="12.5" text-anchor="end" textLength="5.4" lengthAdjust="spacingAndGlyphs">0</text>
<text x="72.8" y="485" font-size="12.5" text-anchor="end" textLength="11.8" lengthAdjust="spacingAndGlyphs">&#8722;1</text>
<text x="72.8" y="529" font-size="12.5" text-anchor="end" textLength="11.8" lengthAdjust="spacingAndGlyphs">&#8722;2</text>
<text x="96.5" y="299" font-size="12" text-anchor="middle" textLength="30.4" lengthAdjust="spacingAndGlyphs">26JUN</text>
<text x="175.5" y="299" font-size="12" text-anchor="middle" textLength="22" lengthAdjust="spacingAndGlyphs">1JUL</text>
<text x="255.5" y="299" font-size="12" text-anchor="middle" textLength="22" lengthAdjust="spacingAndGlyphs">6JUL</text>
<text x="335.5" y="299" font-size="12" text-anchor="middle" textLength="28.3" lengthAdjust="spacingAndGlyphs">11JUL</text>
<text x="415.5" y="299" font-size="12" text-anchor="middle" textLength="28.3" lengthAdjust="spacingAndGlyphs">16JUL</text>
<text x="495.5" y="299" font-size="12" text-anchor="middle" textLength="28.3" lengthAdjust="spacingAndGlyphs">21JUL</text>
<text x="574.5" y="299" font-size="12" text-anchor="middle" textLength="28.3" lengthAdjust="spacingAndGlyphs">26JUL</text>
<text x="670.5" y="299" font-size="12" text-anchor="middle" textLength="24" lengthAdjust="spacingAndGlyphs">1AUG</text>
<text x="95.8" y="310" font-size="12" text-anchor="middle" textLength="23" lengthAdjust="spacingAndGlyphs">2011</text>
<text x="96.5" y="560.5" font-size="12" text-anchor="middle" textLength="30.4" lengthAdjust="spacingAndGlyphs">26JUN</text>
<text x="175.5" y="560.5" font-size="12" text-anchor="middle" textLength="22" lengthAdjust="spacingAndGlyphs">1JUL</text>
<text x="255.5" y="560.5" font-size="12" text-anchor="middle" textLength="22" lengthAdjust="spacingAndGlyphs">6JUL</text>
<text x="335.5" y="560.5" font-size="12" text-anchor="middle" textLength="28.3" lengthAdjust="spacingAndGlyphs">11JUL</text>
<text x="415.5" y="560.5" font-size="12" text-anchor="middle" textLength="28.3" lengthAdjust="spacingAndGlyphs">16JUL</text>
<text x="495.5" y="560.5" font-size="12" text-anchor="middle" textLength="28.3" lengthAdjust="spacingAndGlyphs">21JUL</text>
<text x="574.5" y="560.5" font-size="12" text-anchor="middle" textLength="28.3" lengthAdjust="spacingAndGlyphs">26JUL</text>
<text x="670.5" y="560.5" font-size="12" text-anchor="middle" textLength="24" lengthAdjust="spacingAndGlyphs">1AUG</text>
<text x="95.8" y="571.5" font-size="12" text-anchor="middle" textLength="23" lengthAdjust="spacingAndGlyphs">2011</text>
<text x="73.6" y="595" font-size="13" text-anchor="start" textLength="180.2" lengthAdjust="spacingAndGlyphs">http://cmdp.ncc.cma.gov.cn</text>
<text x="4" y="615.6" font-size="10" text-anchor="start" textLength="83" lengthAdjust="spacingAndGlyphs">GrADS: COLA/IGES</text>
<g id="bcc">
<circle cx="662.1" cy="586" r="19.6" fill="#fff" stroke="#cfcfcf" stroke-width="0.9"/>
<circle cx="662.1" cy="586" r="15.2" fill="none" stroke="#eeeeee" stroke-width="0.6"/>
<path id="bccTop" d="M648.75 576.65 A16.3 16.3 0 0 1 675.45 576.65" fill="none"/>
<path id="bccBot" d="M644.62 592.36 A18.6 18.6 0 0 0 679.58 592.36" fill="none"/>
<text font-size="3" style="font-family:'Liberation Sans','Noto Sans CJK SC',sans-serif;fill:#858585" letter-spacing="1.8"><textPath href="#bccTop" startOffset="50%" text-anchor="middle">北京气候中心</textPath></text>
<text font-size="3" style="font-family:'Liberation Serif',serif;fill:#858585;font-weight:bold" letter-spacing="0.1"><textPath href="#bccBot" startOffset="50%" text-anchor="middle">BEIJING CLIMATE CENTER</textPath></text>
<path id="bccSw" d="M663.56 583.42 C659.25 582.94 656.06 580.12 656.32 577.12 C656.55 574.5 660 572.81 663 573 C665.62 573.11 667.69 574.69 668.25 576.45 C670.5 576.19 673.87 577.5 674.7 580.69 C675.18 583.12 673.12 585 670.8 585.19 C672.37 583.87 673.31 582.37 672.93 580.69 C672.37 578.81 670.12 577.69 667.5 578.06 C666.37 576 664.12 575.44 662.62 575.7 C660 576.19 658.87 578.06 659.44 579.94 C660 581.81 661.69 582.94 663.56 583.42Z" fill="#f01414" stroke="#f01414" stroke-width="0.35" stroke-linejoin="round"/>
<path d="M663.56 583.42 C659.25 582.94 656.06 580.12 656.32 577.12 C656.55 574.5 660 572.81 663 573 C665.62 573.11 667.69 574.69 668.25 576.45 C670.5 576.19 673.87 577.5 674.7 580.69 C675.18 583.12 673.12 585 670.8 585.19 C672.37 583.87 673.31 582.37 672.93 580.69 C672.37 578.81 670.12 577.69 667.5 578.06 C666.37 576 664.12 575.44 662.62 575.7 C660 576.19 658.87 578.06 659.44 579.94 C660 581.81 661.69 582.94 663.56 583.42Z" fill="#1428f0" stroke="#1428f0" stroke-width="0.35" stroke-linejoin="round" transform="rotate(180 662.51 581.14)"/>
<text x="662.6" y="597.5" font-size="8.7" text-anchor="middle" textLength="18.9" lengthAdjust="spacingAndGlyphs" style="font-family:'Liberation Serif',serif;font-weight:bold;fill:#1c2230">BCC</text>
</g>
<g id="ncc" fill="none" stroke="#2030f8">
<ellipse cx="708" cy="585.6" rx="19.3" ry="11.7" stroke-width="1.1"/>
<ellipse cx="708" cy="585.6" rx="16.3" ry="9.6" stroke-width="0.6"/>
<line x1="689" y1="585.6" x2="709" y2="585.6" stroke-width="0.7"/>
<ellipse cx="705" cy="585.6" rx="9" ry="11.5" stroke-width="0.6"/>
<ellipse cx="705" cy="585.6" rx="3.2" ry="11.5" stroke-width="0.6"/>
<path d="M695 584.1 q3 -3.5 8 -2.5 l2 2 l-1.5 2.5 l-3 1 l-1 3 l-2.5 -2 l-2.5 -1 z" stroke-width="0.8"/>
<path d="M701 598.2 h14 M699.5 599.8 h17 M702 601.3 h12" stroke-width="0.9"/>
<g fill="#2030f8" stroke="none"><ellipse cx="695.85" cy="574.64" rx="2.4" ry="1.1" transform="rotate(4.72 695.85 574.64)"/><ellipse cx="694.82" cy="573.2" rx="2.0" ry="1.1" transform="rotate(-59.28 694.82 573.2)"/><ellipse cx="692" cy="576.98" rx="2.4" ry="1.1" transform="rotate(-9.66 692 576.98)"/><ellipse cx="690.65" cy="575.84" rx="2.0" ry="1.1" transform="rotate(-73.66 690.65 575.84)"/><ellipse cx="689.21" cy="579.81" rx="2.4" ry="1.1" transform="rotate(-27.42 689.21 579.81)"/><ellipse cx="687.57" cy="579.14" rx="2.0" ry="1.1" transform="rotate(-91.42 687.57 579.14)"/><ellipse cx="687.57" cy="582.99" rx="2.4" ry="1.1" transform="rotate(-48.54 687.57 582.99)"/><ellipse cx="685.81" cy="582.95" rx="2.0" ry="1.1" transform="rotate(-112.54 685.81 582.95)"/><ellipse cx="687.22" cy="586.42" rx="2.4" ry="1.1" transform="rotate(-70.78 687.22 586.42)"/><ellipse cx="685.57" cy="587.05" rx="2.0" ry="1.1" transform="rotate(-134.78 685.57 587.05)"/><ellipse cx="688.3" cy="589.93" rx="2.4" ry="1.1" transform="rotate(-90.91 688.3 589.93)"/><ellipse cx="686.97" cy="591.09" rx="2.0" ry="1.1" transform="rotate(-154.91 686.97 591.09)"/><ellipse cx="690.84" cy="593.2" rx="2.4" ry="1.1" transform="rotate(-107.47 690.84 593.2)"/><ellipse cx="689.89" cy="594.7" rx="2.0" ry="1.1" transform="rotate(-171.47 689.89 594.7)"/><ellipse cx="694.63" cy="595.93" rx="2.4" ry="1.1" transform="rotate(-120.93 694.63 595.93)"/><ellipse cx="694.06" cy="597.61" rx="2.0" ry="1.1" transform="rotate(-184.93 694.06 597.61)"/><ellipse cx="699.37" cy="597.89" rx="2.4" ry="1.1" transform="rotate(-132.33 699.37 597.89)"/><ellipse cx="699.14" cy="599.65" rx="2.0" ry="1.1" transform="rotate(-196.33 699.14 599.65)"/><ellipse cx="704.68" cy="598.95" rx="2.4" ry="1.1" transform="rotate(-142.65 704.68 598.95)"/><ellipse cx="704.77" cy="600.72" rx="2.0" ry="1.1" transform="rotate(-206.65 704.77 600.72)"/><ellipse cx="720.15" cy="574.64" rx="2.4" ry="1.1" transform="rotate(-184.72 720.15 574.64)"/><ellipse cx="721.18" cy="573.2" rx="2.0" ry="1.1" transform="rotate(-120.72 721.18 573.2)"/><ellipse cx="724" cy="576.98" rx="2.4" ry="1.1" transform="rotate(-170.34 724 576.98)"/><ellipse cx="725.35" cy="575.84" rx="2.0" ry="1.1" transform="rotate(-106.34 725.35 575.84)"/><ellipse cx="726.79" cy="579.81" rx="2.4" ry="1.1" transform="rotate(-152.58 726.79 579.81)"/><ellipse cx="728.43" cy="579.14" rx="2.0" ry="1.1" transform="rotate(-88.58 728.43 579.14)"/><ellipse cx="728.43" cy="582.99" rx="2.4" ry="1.1" transform="rotate(-131.46 728.43 582.99)"/><ellipse cx="730.19" cy="582.95" rx="2.0" ry="1.1" transform="rotate(-67.46 730.19 582.95)"/><ellipse cx="728.78" cy="586.42" rx="2.4" ry="1.1" transform="rotate(-109.22 728.78 586.42)"/><ellipse cx="730.43" cy="587.05" rx="2.0" ry="1.1" transform="rotate(-45.22 730.43 587.05)"/><ellipse cx="727.7" cy="589.93" rx="2.4" ry="1.1" transform="rotate(-89.09 727.7 589.93)"/><ellipse cx="729.03" cy="591.09" rx="2.0" ry="1.1" transform="rotate(-25.09 729.03 591.09)"/><ellipse cx="725.16" cy="593.2" rx="2.4" ry="1.1" transform="rotate(-72.53 725.16 593.2)"/><ellipse cx="726.11" cy="594.7" rx="2.0" ry="1.1" transform="rotate(-8.53 726.11 594.7)"/><ellipse cx="721.37" cy="595.93" rx="2.4" ry="1.1" transform="rotate(-59.07 721.37 595.93)"/><ellipse cx="721.94" cy="597.61" rx="2.0" ry="1.1" transform="rotate(4.93 721.94 597.61)"/><ellipse cx="716.63" cy="597.89" rx="2.4" ry="1.1" transform="rotate(-47.67 716.63 597.89)"/><ellipse cx="716.86" cy="599.65" rx="2.0" ry="1.1" transform="rotate(16.33 716.86 599.65)"/><ellipse cx="711.32" cy="598.95" rx="2.4" ry="1.1" transform="rotate(-37.35 711.32 598.95)"/><ellipse cx="711.23" cy="600.72" rx="2.0" ry="1.1" transform="rotate(26.65 711.23 600.72)"/></g>
<path d="M721.36 574.17 A21.7 14.5 0 0 1 710.64 599.99" stroke-width="0.5"/>
<path d="M694.64 574.17 A21.7 14.5 0 0 0 705.36 599.99" stroke-width="0.5"/>
</g>
<rect x="707.4" y="581" width="20.5" height="10.6" fill="#fff" opacity="0.55"/>
<text x="707.8" y="591.5" font-size="14" textLength="19.2" lengthAdjust="spacingAndGlyphs" stroke="#2030f8" stroke-width="0.8" style="font-family:'Liberation Sans',sans-serif;font-weight:bold;font-style:italic;fill:#2030f8">NCC</text>
<text x="701.4" y="573.2" font-size="4.4" text-anchor="middle" style="font-family:'Liberation Sans','Noto Sans CJK SC',sans-serif;font-weight:bold;fill:#2030f8">中</text>
<text x="715.2" y="573.2" font-size="4.4" text-anchor="middle" style="font-family:'Liberation Sans','Noto Sans CJK SC',sans-serif;font-weight:bold;fill:#2030f8">国</text>
</svg></body></html>
